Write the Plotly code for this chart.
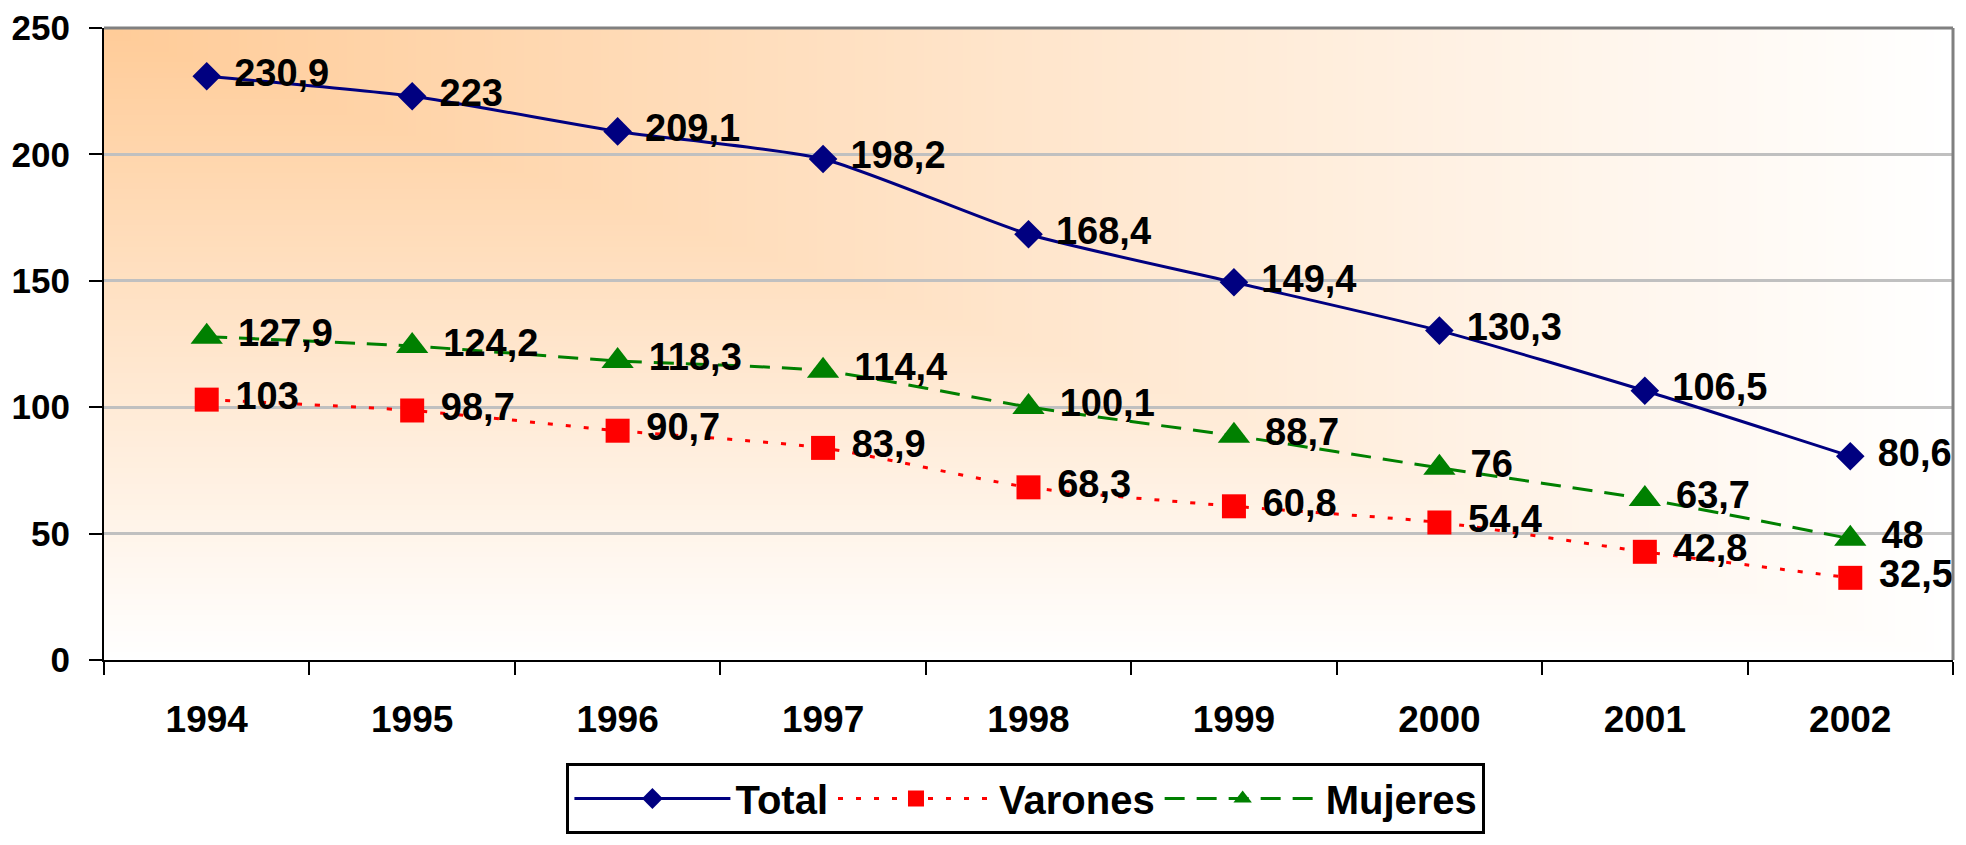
import base64, struct, zlib
import plotly.graph_objects as go

years = ["1994", "1995", "1996", "1997", "1998", "1999", "2000", "2001", "2002"]
total = [230.9, 223, 209.1, 198.2, 168.4, 149.4, 130.3, 106.5, 80.6]
varones = [103, 98.7, 90.7, 83.9, 68.3, 60.8, 54.4, 42.8, 32.5]
mujeres = [127.9, 124.2, 118.3, 114.4, 100.1, 88.7, 76, 63.7, 48]
y_ticks = [0, 50, 100, 150, 200, 250]


def fmt(v):
    return ("%g" % v).replace(".", ",")


def gradient_png(w=240, h=120, c0=(255, 204, 153), c1=(255, 255, 255)):
    rows = b""
    for j in range(h):
        row = b"\x00"
        v = j / (h - 1)
        for i in range(w):
            u = i / (w - 1)
            t = max(u, v)
            row += bytes(int(round(c0[k] + (c1[k] - c0[k]) * t)) for k in range(3))
        rows += row

    def chunk(tag, data):
        c = struct.pack(">I", len(data)) + tag + data
        return c + struct.pack(">I", zlib.crc32(tag + data) & 0xFFFFFFFF)

    png = b"\x89PNG\r\n\x1a\n"
    png += chunk(b"IHDR", struct.pack(">IIBBBBB", w, h, 8, 2, 0, 0, 0))
    png += chunk(b"IDAT", zlib.compress(rows, 9))
    png += chunk(b"IEND", b"")
    return "data:image/png;base64," + base64.b64encode(png).decode()


FONT = "Arial, Liberation Sans, sans-serif"

fig = go.Figure()
series = [
    ("Total", total, "#000080", "solid", "diamond", 22),
    ("Varones", varones, "#FF0000", "5px,13px", "square", 24),
    ("Mujeres", mujeres, "#008000", "20px,12px", "triangle-up", 28),
]
for name, vals, color, dash, sym, size in series:
    fig.add_trace(go.Scatter(
        x=years, y=vals, name=name, mode="lines+markers+text",
        line=dict(color=color, width=3, dash=dash, shape="spline", smoothing=0.6),
        marker=dict(symbol=sym, size=size, color=color),
        text=["\u2004" + fmt(v) for v in vals],
        textposition="middle right",
        textfont=dict(family=FONT, size=38, color="black", weight="bold"),
        cliponaxis=False,
    ))

fig.add_layout_image(dict(
    source=gradient_png(), xref="paper", yref="paper", x=0, y=1,
    sizex=1, sizey=1, sizing="stretch", layer="below", xanchor="left", yanchor="top",
))

fig.add_shape(type="line", xref="paper", yref="paper", x0=0, x1=1, y0=1, y1=1,
              line=dict(color="#808080", width=3))
fig.add_shape(type="line", xref="paper", yref="paper", x0=1, x1=1, y0=0, y1=1,
              line=dict(color="#808080", width=3))

fig.update_layout(
    width=1950, height=829,
    margin=dict(l=96, r=5, t=20, b=177, autoexpand=False),
    paper_bgcolor="white", plot_bgcolor="rgba(0,0,0,0)",
    font=dict(family=FONT, color="black"),
    separators=",.",
    showlegend=True,
    legend=dict(
        orientation="h", x=0.4986, xanchor="center", y=-0.2753, yanchor="bottom",
        bordercolor="black", borderwidth=3, bgcolor="white",
        font=dict(family=FONT, size=40, color="black", weight="bold"),
        itemwidth=156, traceorder="normal",
    ),
    xaxis=dict(
        type="category", tickson="boundaries", ticks="outside", ticklen=13, tickwidth=2,
        tickcolor="black", showline=True, linecolor="black", linewidth=2,
        showgrid=False, tickfont=dict(family=FONT, size=37, color="black", weight="bold"),
        ticklabelstandoff=26, range=[-0.5, 8.5], automargin=False,
    ),
    yaxis=dict(
        range=[0, 250], tickvals=y_ticks, ticks="outside", ticklen=13, tickwidth=2,
        tickcolor="black", showline=True, linecolor="black", linewidth=2,
        showgrid=True, gridcolor="#C0C0C0", gridwidth=3, zeroline=False,
        tickfont=dict(family=FONT, size=35, color="black", weight="bold"),
        ticklabelstandoff=12, automargin=False,
    ),
)
fig.write_html("out.html")
